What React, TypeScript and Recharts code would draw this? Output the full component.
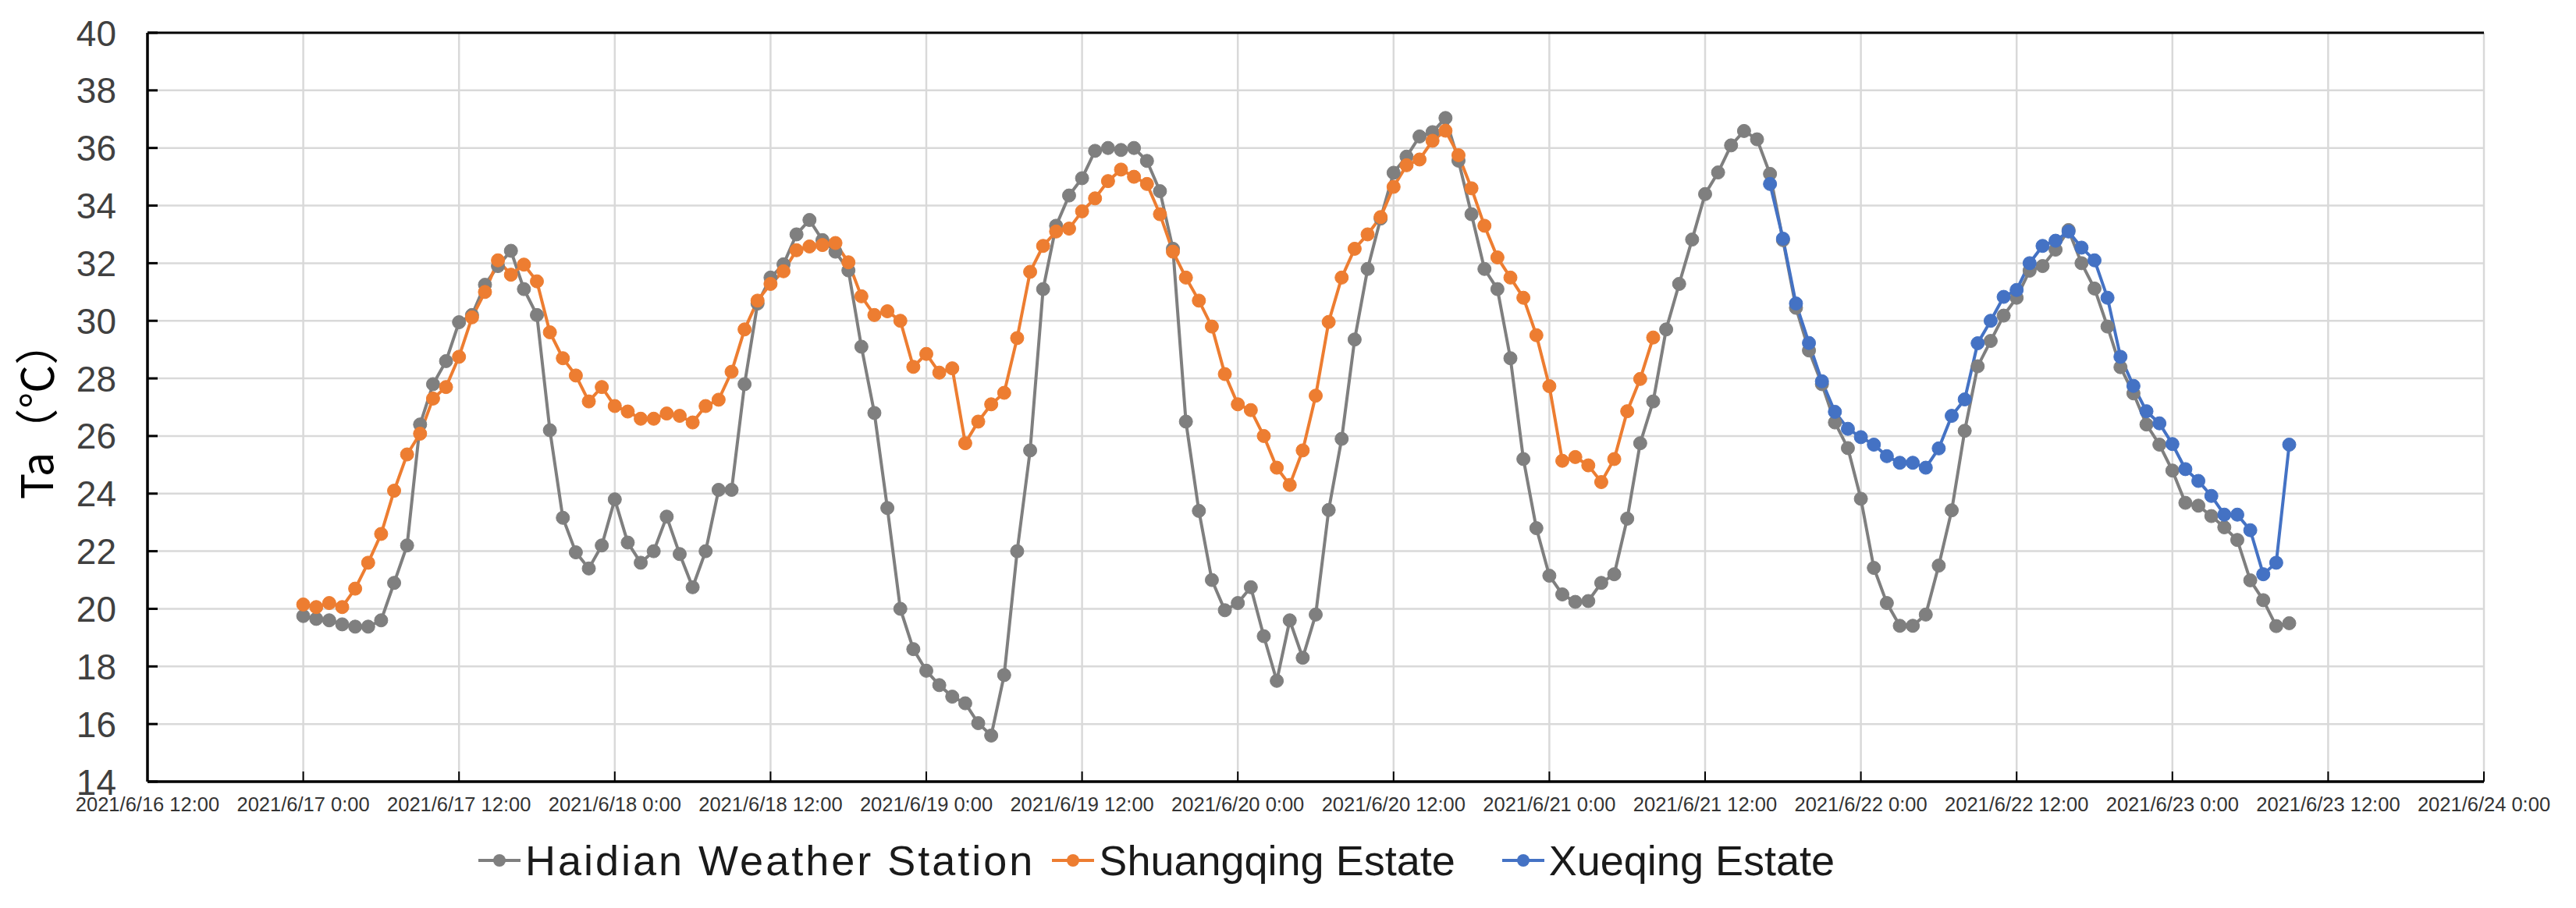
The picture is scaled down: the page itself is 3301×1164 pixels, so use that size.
import { CartesianGrid, Legend, Line, LineChart, ReferenceLine, XAxis, YAxis } from "recharts";

// hourly air temperature, hour 0 = 2021/6/17 0:00
const haidianStart = 0;
const haidian = [
  19.75, 19.65, 19.6, 19.46, 19.38, 19.38, 19.6, 20.9, 22.2, 26.4, 27.8, 28.6,
  29.95, 30.2, 31.25, 31.9, 32.43, 31.1, 30.2, 26.2, 23.16, 21.96, 21.4, 22.2,
  23.8, 22.3, 21.6, 22.0, 23.2, 21.9, 20.75, 22.0, 24.13, 24.13, 27.8, 30.6,
  31.5, 31.96, 33.0, 33.5, 32.8, 32.4, 31.75, 29.1, 26.8, 23.5, 20.0, 18.6,
  17.85, 17.35, 16.95, 16.72, 16.03, 15.6, 17.7, 22.0, 25.5, 31.1, 33.3, 34.35,
  34.95, 35.9, 36.0, 35.93, 36.0, 35.55, 34.5, 32.5, 26.5, 23.4, 21.0, 19.95,
  20.2, 20.75, 19.05, 17.5, 19.6, 18.3, 19.8, 23.43, 25.9, 29.35, 31.8, 33.55,
  35.14, 35.7, 36.4, 36.55, 37.04, 35.56, 33.7, 31.8, 31.1, 28.7, 25.2, 22.8,
  21.15, 20.5, 20.24, 20.27, 20.9, 21.2, 23.13, 25.75, 27.2, 29.7, 31.28, 32.82,
  34.4, 35.15, 36.09, 36.59, 36.3, 35.1, 32.8, 30.45, 28.97, 27.8, 26.47, 25.58,
  23.82, 21.42, 20.2, 19.41, 19.41, 19.8, 21.5, 23.42, 26.18, 28.42, 29.3, 30.18,
  30.8, 31.74, 31.9, 32.47, 33.15, 32.0, 31.12, 29.8, 28.39, 27.48, 26.4, 25.7,
  24.8, 23.68, 23.58, 23.22, 22.83, 22.39, 20.99, 20.3, 19.4, 19.5,
];

const shuangqingStart = 0;
const shuangqing = [
  20.15, 20.06, 20.2, 20.06, 20.7, 21.6, 22.6, 24.1, 25.36, 26.08, 27.3, 27.7,
  28.75, 30.12, 31.0, 32.1, 31.6, 31.95, 31.37, 29.6, 28.7, 28.1, 27.2, 27.7,
  27.04, 26.85, 26.6, 26.6, 26.78, 26.7, 26.47, 27.04, 27.26, 28.23, 29.7, 30.7,
  31.28, 31.72, 32.45, 32.58, 32.63, 32.7, 32.03, 30.85, 30.2, 30.33, 30.0, 28.4,
  28.85, 28.2, 28.35, 25.75, 26.5, 27.1, 27.5, 29.4, 31.7, 32.6, 33.1, 33.2,
  33.8, 34.25, 34.85, 35.25, 35.0, 34.75, 33.7, 32.4, 31.5, 30.7, 29.8, 28.15,
  27.1, 26.9, 26.0, 24.9, 24.3, 25.5, 27.4, 29.96, 31.5, 32.5, 33.0, 33.6,
  34.65, 35.4, 35.6, 36.25, 36.6, 35.75, 34.6, 33.3, 32.2, 31.5, 30.8, 29.5,
  27.73, 25.14, 25.27, 24.98, 24.4, 25.2, 26.86, 27.98, 29.42,
];

const xueqingStart = 113;
const xueqing = [
  34.75, 32.85, 30.6, 29.23, 27.9, 26.84, 26.25,
  25.96, 25.7, 25.3, 25.07, 25.07, 24.9, 25.57, 26.7, 27.27, 29.22, 30.0, 30.83,
  31.07, 32.0, 32.6, 32.78, 33.1, 32.54, 32.1, 30.8, 28.75, 27.74, 26.86, 26.44,
  25.72, 24.85, 24.44, 23.92, 23.27, 23.27, 22.73, 21.2, 21.6, 25.7,
];

const xTicks = [-12, 0, 12, 24, 36, 48, 60, 72, 84, 96, 108, 120, 132, 144, 156, 168];
const xTickLabels = [
  "2021/6/16 12:00", "2021/6/17 0:00", "2021/6/17 12:00", "2021/6/18 0:00",
  "2021/6/18 12:00", "2021/6/19 0:00", "2021/6/19 12:00", "2021/6/20 0:00",
  "2021/6/20 12:00", "2021/6/21 0:00", "2021/6/21 12:00", "2021/6/22 0:00",
  "2021/6/22 12:00", "2021/6/23 0:00", "2021/6/23 12:00", "2021/6/24 0:00",
];
const yTicks = [14, 16, 18, 20, 22, 24, 26, 28, 30, 32, 34, 36, 38, 40];

const GRAY = "#7f7f7f";
const ORANGE = "#ed7d31";
const BLUE = "#4472c4";

function buildRows() {
  const rows: { t: number; haidian?: number; shuangqing?: number; xueqing?: number }[] = [];
  const last = haidianStart + haidian.length - 1;
  for (let t = 0; t <= last; t++) {
    const row: any = { t };
    if (t >= haidianStart && t - haidianStart < haidian.length) row.haidian = haidian[t - haidianStart];
    if (t >= shuangqingStart && t - shuangqingStart < shuangqing.length)
      row.shuangqing = shuangqing[t - shuangqingStart];
    if (t >= xueqingStart && t - xueqingStart < xueqing.length) row.xueqing = xueqing[t - xueqingStart];
    rows.push(row);
  }
  return rows;
}

const rows = buildRows();

function XTick(props: any) {
  const { x, y, payload } = props;
  const i = xTicks.indexOf(payload.value);
  return (
    <g>
      <line x1={x} x2={x} y1={y} y2={y - 13} stroke="#000" strokeWidth={2} />
      <text
        x={x}
        y={y + 38}
        textAnchor="middle"
        fill="#333"
        fontFamily="Liberation Sans, Arial, sans-serif"
        fontSize={25.5}
      >
        {i >= 0 ? xTickLabels[i] : ""}
      </text>
    </g>
  );
}

function YTick(props: any) {
  const { x, y, payload } = props;
  return (
    <g>
      <line x1={x} x2={x + 13} y1={y} y2={y} stroke="#000" strokeWidth={3} />
      <text
        x={x - 40}
        y={y}
        dy="0.36em"
        textAnchor="end"
        fill="#404040"
        fontFamily="Liberation Sans, Arial, sans-serif"
        fontSize={46}
      >
        {payload.value}
      </text>
    </g>
  );
}

function YLabel() {
  return (
    <text
      x={68}
      y={526}
      transform="rotate(-90, 68, 526)"
      textAnchor="middle"
      fill="#000"
      fontFamily="Noto Sans CJK SC, sans-serif"
      fontSize={56}
    >
      Ta（℃）
    </text>
  );
}

function LegendContent(props: any) {
  const { payload = [] } = props;
  return (
    <div
      style={{
        height: 110,
        display: "flex",
        alignItems: "center",
        paddingLeft: 613,
        fontFamily: "Liberation Sans, Arial, sans-serif",
        fontSize: 54,
        color: "#1a1a1a",
        whiteSpace: "nowrap",
      }}
    >
      {payload.map((p: any, i: number) => (
        <div
          key={p.value}
          style={{ display: "flex", alignItems: "center", marginRight: i === 1 ? 60 : 22 }}
        >
          <svg width={54} height={22} style={{ marginRight: 6 }}>
            <line x1={0} x2={54} y1={11} y2={11} stroke={p.color} strokeWidth={4} />
            <circle cx={27} cy={11} r={8} fill={p.color} />
          </svg>
          <span style={{ letterSpacing: i === 0 ? 3 : 0 }}>{p.value}</span>
        </div>
      ))}
    </div>
  );
}

export default function App() {
  return (
    <div style={{ position: "absolute", left: 0, top: 0, width: 3301, height: 1164, background: "#fff" }}>
      <LineChart width={3301} height={1164} data={rows} margin={{ top: 42, right: 118, left: 0, bottom: 6 }}>
        <CartesianGrid stroke="#d9d9d9" strokeWidth={2.5} />
        <XAxis
          type="number"
          dataKey="t"
          domain={[-12, 168]}
          ticks={xTicks}
          interval={0}
          height={46}
          tickSize={0}
          tickMargin={0}
          tick={XTick}
          axisLine={{ stroke: "#000", strokeWidth: 3.5 }}
          allowDataOverflow
        />
        <YAxis
          type="number"
          domain={[14, 40]}
          ticks={yTicks}
          interval={0}
          width={189}
          tickSize={0}
          tickMargin={0}
          tick={YTick}
          axisLine={{ stroke: "#000", strokeWidth: 3.5 }}
          label={<YLabel />}
          allowDataOverflow
        />
        <ReferenceLine y={40} stroke="#000" strokeWidth={3} />
        <Legend
          verticalAlign="bottom"
          height={110}
          wrapperStyle={{ left: 0, width: 3301 }}
          content={<LegendContent />}
        />
        <Line
          dataKey="haidian"
          name="Haidian Weather Station"
          stroke={GRAY}
          strokeWidth={4}
          dot={{ r: 8.5, fill: GRAY, stroke: GRAY, strokeWidth: 1 }}
          activeDot={false}
          isAnimationActive={false}
        />
        <Line
          dataKey="shuangqing"
          name="Shuangqing Estate"
          stroke={ORANGE}
          strokeWidth={4}
          dot={{ r: 8.5, fill: ORANGE, stroke: ORANGE, strokeWidth: 1 }}
          activeDot={false}
          isAnimationActive={false}
        />
        <Line
          dataKey="xueqing"
          name="Xueqing Estate"
          stroke={BLUE}
          strokeWidth={4}
          dot={{ r: 8.5, fill: BLUE, stroke: BLUE, strokeWidth: 1 }}
          activeDot={false}
          isAnimationActive={false}
        />
      </LineChart>
    </div>
  );
}
